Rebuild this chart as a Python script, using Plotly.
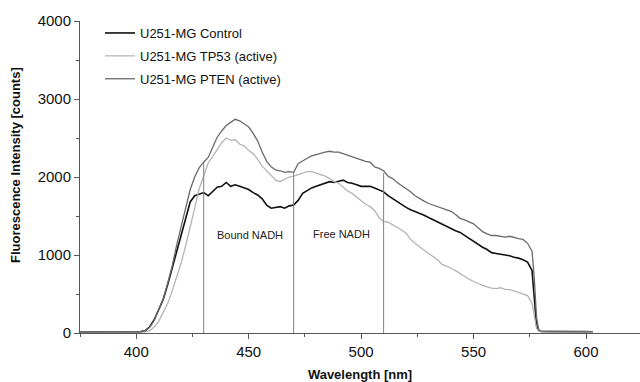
import plotly.graph_objects as go

wavelength = [375, 380, 385, 390, 395, 400, 402, 404, 406, 408, 410, 412, 414, 416, 418, 420,
              422, 424, 426, 428, 430, 432, 434, 436, 438, 440, 442, 444, 446, 448, 450, 452,
              454, 456, 458, 460, 462, 464, 466, 468, 470, 472, 474, 476, 478, 480, 482, 484,
              486, 488, 490, 492, 494, 496, 498, 500, 502, 504, 506, 508, 510, 512, 514, 516,
              518, 520, 522, 524, 526, 528, 530, 532, 534, 536, 538, 540, 542, 544, 546, 548,
              550, 552, 554, 556, 558, 560, 562, 564, 566, 568, 570, 572, 574, 576, 577, 578,
              579, 580, 585, 590, 595, 600, 603]

control = [15, 14, 15, 14, 15, 16, 18, 30, 80, 170, 300, 430, 620, 830, 1060, 1280,
           1480, 1680, 1760, 1780, 1800, 1760, 1820, 1870, 1880, 1930, 1880, 1900, 1880, 1860, 1840, 1800,
           1770, 1720, 1640, 1600, 1610, 1620, 1600, 1630, 1640, 1700, 1790, 1830, 1860, 1880, 1900, 1920,
           1940, 1930, 1950, 1960, 1930, 1920, 1900, 1880, 1880, 1880, 1860, 1830, 1810, 1760, 1720, 1680,
           1640, 1610, 1580, 1560, 1530, 1510, 1480, 1450, 1420, 1400, 1370, 1340, 1310, 1290, 1250, 1220,
           1180, 1140, 1100, 1070, 1030, 1020, 1010, 1000, 990, 970, 960, 940, 910, 800, 500, 100,
           30, 20, 18, 17, 18, 17, 16]

tp53 = [10, 10, 11, 10, 11, 12, 12, 15, 30, 80, 150, 260, 380, 540, 720, 900,
        1120, 1380, 1600, 1850, 2020, 2180, 2260, 2350, 2440, 2500, 2470, 2480, 2420, 2400, 2340, 2300,
        2230, 2140, 2080, 2030, 1960, 1940, 1970, 2000, 2010, 2030, 2060, 2070, 2070, 2050, 2040, 2010,
        1980, 1940, 1920, 1870, 1820, 1790, 1740, 1700, 1650, 1620, 1570, 1480, 1430, 1420, 1390, 1360,
        1320, 1280, 1200, 1150, 1100, 1060, 1020, 980, 940, 880, 860, 830, 800, 760, 720, 690,
        660, 630, 610, 590, 575, 570, 580, 560, 555, 540, 520, 500, 480, 380, 200, 60,
        25, 18, 15, 15, 15, 14, 14]

pten = [12, 13, 12, 13, 13, 14, 16, 28, 75, 160, 290, 440, 640, 860, 1130, 1370,
        1620, 1840, 2000, 2120, 2190, 2250, 2380, 2510, 2590, 2660, 2700, 2740, 2720, 2680, 2640, 2560,
        2460, 2320, 2200, 2130, 2090, 2080, 2060, 2070, 2060, 2170, 2210, 2240, 2270, 2290, 2310, 2320,
        2330, 2320, 2320, 2300, 2280, 2250, 2230, 2220, 2200, 2190, 2130, 2110, 2080, 2010, 1980, 1930,
        1890, 1860, 1810, 1760, 1720, 1690, 1660, 1640, 1610, 1590, 1580, 1560, 1520, 1470, 1450, 1430,
        1400, 1350, 1300, 1270, 1250, 1250, 1240, 1230, 1240, 1220, 1210, 1200, 1150, 1050, 700, 200,
        40, 25, 20, 20, 19, 20, 18]

series_names = ["U251-MG Control", "U251-MG TP53 (active)", "U251-MG PTEN (active)"]

marker_wavelengths = [430, 470, 510]
marker_tops = [2180, 2070, 2050]

region_labels = ["Bound NADH", "Free NADH"]
region_label_x = [450.6, 491.4]
region_label_y = [1260, 1273]

FONT = "Liberation Sans, Arial, sans-serif"

W, H = 640, 382
ml, mr, mt, mb = 80, 0, 21, 49
pw, ph = W - ml - mr, H - mt - mb

fig = go.Figure()
colors = ["#111111", "#b4b4b4", "#6a6a6a"]
widths = [1.6, 1.3, 1.3]
for i, (name, vals) in enumerate(zip(series_names, [control, tp53, pten])):
    fig.add_trace(go.Scatter(x=wavelength, y=vals, mode="lines", name=name,
                             legendgroup=name,
                             line=dict(color=colors[i], width=widths[i])))

for xv, top in zip(marker_wavelengths, marker_tops):
    fig.add_shape(type="line", x0=xv, x1=xv, y0=0, y1=top, xref="x", yref="y",
                  line=dict(color="#808080", width=1))

for t, xv, yv in zip(region_labels, region_label_x, region_label_y):
    fig.add_annotation(x=xv, y=yv, text=t, showarrow=False, xref="x", yref="y",
                       font=dict(family=FONT, size=11, color="#222"))

fig.add_annotation(x=(15 - ml) / pw, y=(H - mb - 165) / ph, xref="paper", yref="paper",
                   xanchor="center", yanchor="middle",
                   text="<b>Fluorescence Intensity [counts]</b>",
                   textangle=-90, showarrow=False, font=dict(family=FONT, size=13, color="#111"))

fig.update_layout(
    width=W, height=H,
    margin=dict(l=ml, r=mr, t=mt, b=mb, pad=0, autoexpand=False),
    paper_bgcolor="white", plot_bgcolor="white",
    font=dict(family=FONT, size=14, color="#111"),
    showlegend=True,
    legend=dict(x=(100 - ml) / pw, y=(H - mb - 18) / ph, xanchor="left", yanchor="top",
                bgcolor="rgba(0,0,0,0)", font=dict(family=FONT, size=13, color="#111"),
                tracegroupgap=3, itemwidth=30),
    xaxis=dict(range=[375, 624], showgrid=False, zeroline=False,
               showline=True, linecolor="#555", linewidth=1,
               ticks="outside", ticklen=5, tickcolor="#555", tickwidth=1,
               tickvals=[400, 450, 500, 550, 600],
               minor=dict(ticks="outside", ticklen=3, tickcolor="#555", dtick=25, tick0=375),
               tickfont=dict(family=FONT, size=15, color="#111"),
               title=dict(text="<b>Wavelength [nm]</b>", font=dict(family=FONT, size=13, color="#111"),
                          standoff=10)),
    yaxis=dict(range=[0, 4000], showgrid=False, zeroline=False,
               showline=True, linecolor="#555", linewidth=1,
               ticks="outside", ticklen=5, tickcolor="#555", tickwidth=1,
               tickvals=[0, 1000, 2000, 3000, 4000],
               minor=dict(ticks="outside", ticklen=3, tickcolor="#555", dtick=500, tick0=0),
               tickfont=dict(family=FONT, size=15, color="#111")),
)

fig.write_html("out.html", config={"displayModeBar": False},
               post_script="document.body.style.margin='0';document.body.style.padding='0';")
